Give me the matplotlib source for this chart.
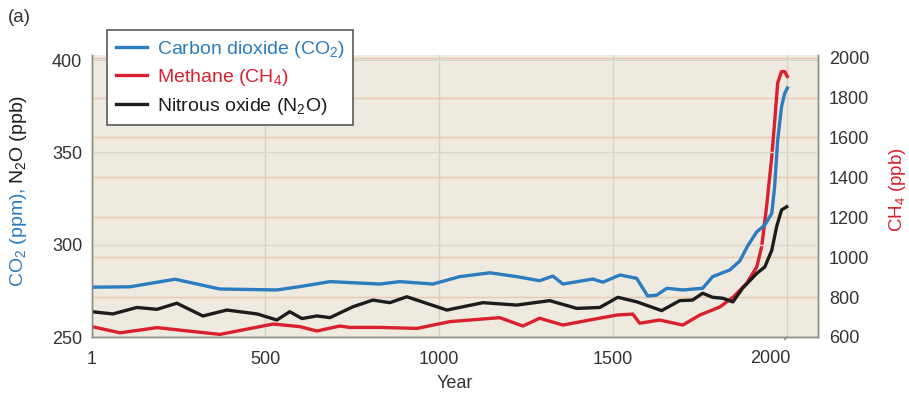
import matplotlib
matplotlib.use('Agg')
import matplotlib.pyplot as plt

plt.rcParams['font.family'] = ['Liberation Sans', 'DejaVu Sans']
plt.rcParams['mathtext.default'] = 'regular'

# carbon dioxide, ppm (left axis)
co2_years = [1, 110, 240, 369, 533, 599, 686, 829, 887, 982, 1059, 1146, 1223,
             1289, 1327, 1356, 1442, 1471, 1520, 1568, 1600, 1626, 1655, 1701,
             1758, 1787, 1836, 1865, 1888, 1914, 1937, 1957, 1965, 1974, 1985,
             1994, 2002]
co2_ppm = [277, 277.2, 281.3, 276, 275.5, 277.3, 280, 278.7, 280, 278.7, 282.7,
           284.8, 282.7, 280.5, 283, 278.7, 281.4, 279.7, 283.6, 281.8, 272.2,
           272.7, 276.4, 275.5, 276.4, 282.7, 286.3, 291.2, 299.5, 307, 310.7,
           317, 331, 356.7, 374.6, 382, 384.9]

# methane, ppb (right axis)
ch4_years = [1, 82, 188, 369, 522, 599, 648, 714, 743, 829, 936, 1031, 1174,
             1241, 1289, 1356, 1433, 1511, 1557, 1577, 1634, 1701, 1750, 1807,
             1845, 1885, 1914, 1928, 1942, 1957, 1965, 1974, 1985, 1994, 2002]
ch4_ppb = [652, 621, 647, 613, 665, 652, 630, 655, 648, 648, 643, 677, 697, 655,
           694, 660, 685, 710, 715, 669, 685, 660, 710, 750, 798, 870, 952, 1053,
           1253, 1504, 1672, 1873, 1930, 1930, 1905]

# nitrous oxide, ppb (left axis)
n2o_years = [1, 61, 130, 188, 245, 320, 389, 476, 533, 570, 605, 648, 686, 752,
             809, 858, 907, 1022, 1126, 1223, 1318, 1396, 1462, 1514, 1568, 1640,
             1692, 1729, 1758, 1787, 1816, 1845, 1873, 1914, 1937, 1957, 1971,
             1985, 2000]
n2o_ppb = [263.7, 262.5, 266, 265, 268.3, 261.4, 264.6, 262.5, 259.2, 263.7, 260,
           261.4, 260.5, 266.4, 270, 268.6, 271.8, 264.6, 268.6, 267.3, 269.7,
           265.5, 266, 271.5, 269.1, 264.3, 269.7, 270, 273.7, 271.5, 271, 269,
           276.4, 284.5, 288, 297, 309.8, 318.8, 320.6]

year_ticks = [1, 500, 1000, 1500, 2000]
year_labels = ['1', '500', '1000', '1500', '']

blue = '#2b7cc0'
red = '#d9202e'
black = '#1c1c1c'
txt = '#333333'

fig = plt.figure(figsize=(9.09, 3.98), dpi=100)
ax2 = fig.add_axes([92 / 909, 1 - 337 / 398, 726 / 909, 282 / 398])
ax = ax2.twinx()
# left axis drawn on top of the right one
ax.yaxis.tick_left()
ax.yaxis.set_label_position('left')
ax2.yaxis.tick_right()
ax2.yaxis.set_label_position('right')
ax.set_zorder(ax2.get_zorder() + 1)
ax.patch.set_visible(False)
ax2.set_facecolor('#efeadf')

ax2.set_xlim(1, 2090)
ax.set_ylim(250, 402.8)
ax2.set_ylim(600, 2013)

# grids
ax2.set_yticks([600, 800, 1000, 1200, 1400, 1600, 1800, 2000])
ax2.grid(axis='y', color='#e9c6ae', lw=1)
ax2.set_xticks(year_ticks, year_labels)
ax2.grid(axis='x', color='#d3d1c8', lw=1)
ax.set_yticks([250, 300, 350, 400])
ax.grid(axis='y', color='#d8d6cf', lw=1)
ax.set_axisbelow(True)

l2, = ax2.plot(ch4_years, ch4_ppb, color=red, lw=2.4, label='Methane (CH$_4$)',
               solid_joinstyle='round')
l1, = ax.plot(co2_years, co2_ppm, color=blue, lw=2.4,
              label='Carbon dioxide (CO$_2$)', solid_joinstyle='round')
l3, = ax.plot(n2o_years, n2o_ppb, color=black, lw=2.4,
              label='Nitrous oxide (N$_2$O)', solid_joinstyle='round')

for a in (ax, ax2):
    a.spines['top'].set_visible(False)
    for s in ('left', 'right', 'bottom'):
        a.spines[s].set_color('#8c8c86')
        a.spines[s].set_linewidth(1)
ax.tick_params(axis='y', length=0, pad=7, labelsize=13, labelcolor=txt)
ax2.tick_params(axis='y', length=0, pad=8, labelsize=13, labelcolor=txt)
ax2.tick_params(axis='x', length=0, pad=10, labelsize=13, labelcolor=txt)

# 2000 label sits off to the left with a leader line
ax2.annotate('2000', xy=(2000, 600), xycoords='data',
             xytext=(-12, -15.5), textcoords='offset points',
             ha='center', va='center', fontsize=13, color=txt,
             arrowprops=dict(arrowstyle='-', color='#777777', lw=1,
                             shrinkA=7, shrinkB=0))

ax2.set_xlabel('Year', fontsize=13, color=txt, labelpad=5)

fig.text(19 / 909, 1 - 18 / 398, '(a)', fontsize=13.5, color=txt,
         ha='center', va='center')

# left axis label in two colours
t1 = fig.text(19 / 909, 1 - 287 / 398, 'CO$_2$ (ppm),', rotation=90,
              fontsize=14, color=blue, ha='center', va='bottom')
fig.canvas.draw()
bb = t1.get_window_extent()
fig.text(19 / 909, (bb.y1 + 4) / fig.bbox.height, 'N$_2$O (ppb)', rotation=90,
         fontsize=14, color=black, ha='center', va='bottom')

fig.text(898 / 909, 1 - 190 / 398, 'CH$_4$ (ppb)', rotation=90,
         fontsize=13.5, color=red, ha='center', va='center')

leg = fig.legend(handles=[l1, l2, l3], loc='upper left',
                 bbox_to_anchor=(107 / 909, 1 - 30 / 398), borderaxespad=0,
                 fontsize=14, frameon=True, fancybox=False,
                 edgecolor='#5a5a5a', framealpha=1, facecolor='white',
                 handlelength=1.6, handletextpad=0.5, labelspacing=0.38,
                 borderpad=0.45, labelcolor=[blue, red, black])
leg.get_frame().set_linewidth(1.2)

fig.savefig('out.png', dpi=100)
